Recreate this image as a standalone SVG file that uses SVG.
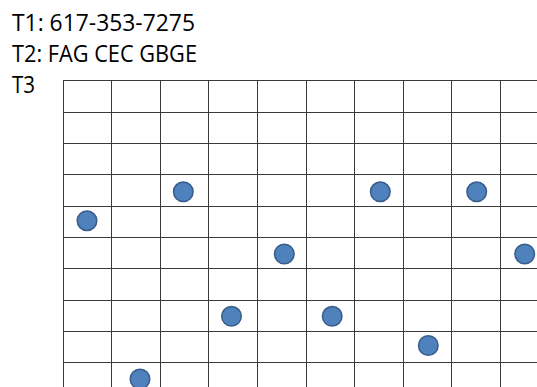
<svg xmlns="http://www.w3.org/2000/svg" width="537" height="387" viewBox="0 0 537 387">
<style>
.lbl{font-family:"Open Sans","Liberation Sans",Arial,sans-serif;font-size:23.5px;fill:#000}
.grid line{stroke:#3a3a3a;stroke-width:1}
.dot{fill:#4f81bd;stroke:#385d8a;stroke-width:1.5}
</style>
<rect width="537" height="387" fill="#fff"/>
<g id="labels">
<text class="lbl" x="12" y="30.7" textLength="183" lengthAdjust="spacingAndGlyphs">T1: 617-353-7275</text>
<text class="lbl" x="12" y="61.7" textLength="185" lengthAdjust="spacingAndGlyphs">T2: FAG CEC GBGE</text>
<text class="lbl" x="12" y="93.2" textLength="23" lengthAdjust="spacingAndGlyphs">T3</text>
</g>
<g id="grid" class="grid">
<line x1="63.5" y1="80.5" x2="63.5" y2="387"/>
<line x1="111.5" y1="80.5" x2="111.5" y2="387"/>
<line x1="160.5" y1="80.5" x2="160.5" y2="387"/>
<line x1="208.5" y1="80.5" x2="208.5" y2="387"/>
<line x1="257.5" y1="80.5" x2="257.5" y2="387"/>
<line x1="306.5" y1="80.5" x2="306.5" y2="387"/>
<line x1="354.5" y1="80.5" x2="354.5" y2="387"/>
<line x1="403.5" y1="80.5" x2="403.5" y2="387"/>
<line x1="451.5" y1="80.5" x2="451.5" y2="387"/>
<line x1="500.5" y1="80.5" x2="500.5" y2="387"/>
<line x1="63" y1="80.5" x2="537" y2="80.5"/>
<line x1="63" y1="112.5" x2="537" y2="112.5"/>
<line x1="63" y1="143.5" x2="537" y2="143.5"/>
<line x1="63" y1="174.5" x2="537" y2="174.5"/>
<line x1="63" y1="206.5" x2="537" y2="206.5"/>
<line x1="63" y1="237.5" x2="537" y2="237.5"/>
<line x1="63" y1="268.5" x2="537" y2="268.5"/>
<line x1="63" y1="300.5" x2="537" y2="300.5"/>
<line x1="63" y1="331.5" x2="537" y2="331.5"/>
<line x1="63" y1="362.5" x2="537" y2="362.5"/>
</g>
<g id="dots">
<circle class="dot" cx="87" cy="220.7" r="9.8"/>
<circle class="dot" cx="140" cy="379" r="9.8"/>
<circle class="dot" cx="183.3" cy="191.8" r="9.8"/>
<circle class="dot" cx="231.5" cy="316.3" r="9.8"/>
<circle class="dot" cx="284.3" cy="254" r="9.8"/>
<circle class="dot" cx="332.2" cy="316.3" r="9.8"/>
<circle class="dot" cx="380.3" cy="191.8" r="9.8"/>
<circle class="dot" cx="428.3" cy="345.5" r="9.8"/>
<circle class="dot" cx="476.7" cy="191.8" r="9.8"/>
<circle class="dot" cx="524.7" cy="254" r="9.8"/>
</g>
</svg>
